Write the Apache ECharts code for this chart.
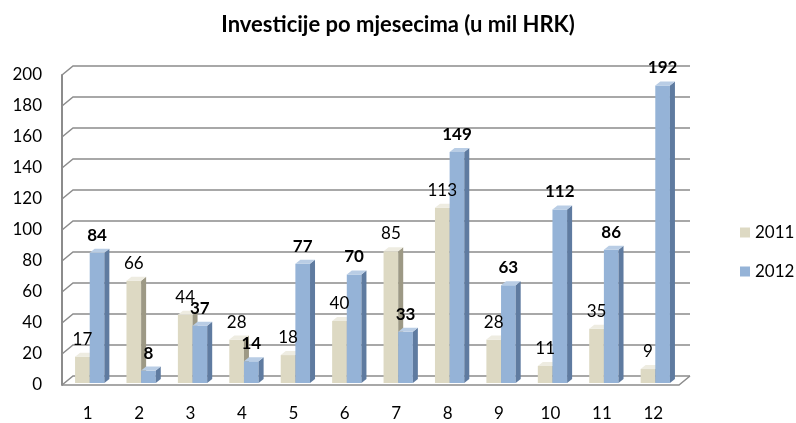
<!DOCTYPE html>
<html>
<head>
<meta charset="utf-8">
<script src="https://cdn.jsdelivr.net/npm/echarts@6/dist/echarts.min.js"></script>
<style>
  html, body { margin: 0; padding: 0; background: #fff; }
  #chart { width: 796px; height: 423px; }
</style>
</head>
<body>
<div id="chart"></div>
<script>
// data
const months = ['1', '2', '3', '4', '5', '6', '7', '8', '9', '10', '11', '12'];
const values2011 = [17, 66, 44, 28, 18, 40, 85, 113, 28, 11, 35, 9];
const values2012 = [84, 8, 37, 14, 77, 70, 33, 149, 63, 112, 86, 192];
const yTicks = [0, 20, 40, 60, 80, 100, 120, 140, 160, 180, 200];

const FONT = 'Lato, "Liberation Sans", sans-serif';
// 3d look: wall depth and bar depth
const WALL_DX = 11, WALL_DY = 9;
const BAR_DX = 5, BAR_DY = 4;
const SHIFT_X = 2, SHIFT_Y = -2;

const chart = echarts.init(document.getElementById('chart'));

// back wall gridlines + left wall diagonals + floor
function renderWall(params, api) {
  const cs = params.coordSys;
  const v = api.value(0);
  const y = api.coord([0, v])[1];
  const x0 = cs.x;
  const style = { stroke: '#8c8c8c', lineWidth: 1.5, fill: null };
  const children = [{
    type: 'polyline',
    shape: { points: [[x0, y], [x0 + WALL_DX, y - WALL_DY], [x0 + cs.width + WALL_DX, y - WALL_DY]] },
    style: style
  }];
  if (v === 0) {
    children.push({
      type: 'polyline',
      shape: { points: [[x0, y], [x0 + cs.width, y], [x0 + cs.width + WALL_DX, y - WALL_DY]] },
      style: style
    });
  }
  return { type: 'group', children: children };
}

// front geometry of one bar, shared by the bar and its label
function barBox(side, api) {
  const idx = api.value(0);
  const v = api.value(1);
  const base = api.coord([idx, 0]);
  const top = api.coord([idx, v]);
  const bw = api.size([1, 0])[0] * 0.285;
  return {
    v: v,
    x: base[0] + (side === 0 ? -bw : 0) + SHIFT_X,
    w: bw,
    yb: base[1] + SHIFT_Y,
    yt: top[1] + SHIFT_Y
  };
}

function makeBarRender(side, colors) {
  return function (params, api) {
    const b = barBox(side, api);
    const x = b.x, bw = b.w, yt = b.yt, yb = b.yb;
    return {
      type: 'group',
      children: [
        {
          type: 'rect',
          shape: { x: x, y: yt, width: bw, height: yb - yt },
          style: { fill: colors[0] }
        },
        {
          type: 'polygon',
          shape: { points: [[x + bw, yt], [x + bw + BAR_DX, yt - BAR_DY], [x + bw + BAR_DX, yb - BAR_DY], [x + bw, yb]] },
          style: { fill: colors[1] }
        },
        {
          type: 'polygon',
          shape: { points: [[x, yt], [x + BAR_DX, yt - BAR_DY], [x + bw + BAR_DX, yt - BAR_DY], [x + bw, yt]] },
          style: { fill: colors[2] }
        }
      ]
    };
  };
}

function makeLabelRender(side, bold) {
  return function (params, api) {
    const b = barBox(side, api);
    return {
      type: 'text',
      style: {
        x: b.x + b.w / 2,
        y: b.yt - 9,
        text: String(b.v),
        align: 'center',
        verticalAlign: 'bottom',
        fill: '#000',
        font: (bold ? 'bold ' : '') + '17px ' + FONT
      }
    };
  };
}

const beige = ['#ddd9c3', '#9d9985', '#eeece1'];
const blue = ['#95b3d7', '#5f7ba0', '#b9cde5'];

const data2011 = values2011.map((v, i) => [i, v]);
const data2012 = values2012.map((v, i) => [i, v]);

const option = {
  animation: false,
  title: {
    text: 'Investicije po mjesecima (u mil HRK)',
    left: 'center',
    top: 9,
    textStyle: { fontFamily: FONT, fontSize: 22, fontWeight: 'bold', color: '#000' }
  },
  legend: {
    orient: 'vertical',
    left: 735,
    top: 219,
    itemWidth: 10,
    itemHeight: 10,
    itemGap: 22,
    icon: 'rect',
    textStyle: { fontFamily: FONT, fontSize: 17, color: '#000' },
    data: ['2011', '2012']
  },
  grid: { left: 62, top: 75, width: 617, height: 310 },
  xAxis: {
    type: 'category',
    data: months,
    axisLine: { show: false },
    axisTick: { show: false },
    axisLabel: { fontFamily: FONT, fontSize: 17, color: '#000', margin: 20 }
  },
  yAxis: {
    type: 'value',
    min: 0,
    max: 200,
    interval: 20,
    axisLine: { show: true, lineStyle: { color: '#8c8c8c', width: 2 } },
    axisTick: { show: false },
    splitLine: { show: false },
    axisLabel: { fontFamily: FONT, fontSize: 17, color: '#000', margin: 20 }
  },
  series: [
    {
      type: 'custom',
      name: 'wall',
      renderItem: renderWall,
      data: yTicks.map(v => [v]),
      encode: { y: 0 },
      silent: true,
      z: 1
    },
    {
      type: 'custom',
      name: '2011',
      itemStyle: { color: beige[0] },
      renderItem: makeBarRender(0, beige),
      data: data2011,
      encode: { x: 0, y: 1 },
      z: 2
    },
    {
      type: 'custom',
      name: '2012',
      itemStyle: { color: blue[0] },
      renderItem: makeBarRender(1, blue),
      data: data2012,
      encode: { x: 0, y: 1 },
      z: 3
    },
    {
      type: 'custom',
      name: 'labels2011',
      renderItem: makeLabelRender(0, false),
      data: data2011,
      encode: { x: 0, y: 1 },
      silent: true,
      z: 4
    },
    {
      type: 'custom',
      name: 'labels2012',
      renderItem: makeLabelRender(1, true),
      data: data2012,
      encode: { x: 0, y: 1 },
      silent: true,
      z: 5
    }
  ]
};

chart.setOption(option);
</script>
</body>
</html>
